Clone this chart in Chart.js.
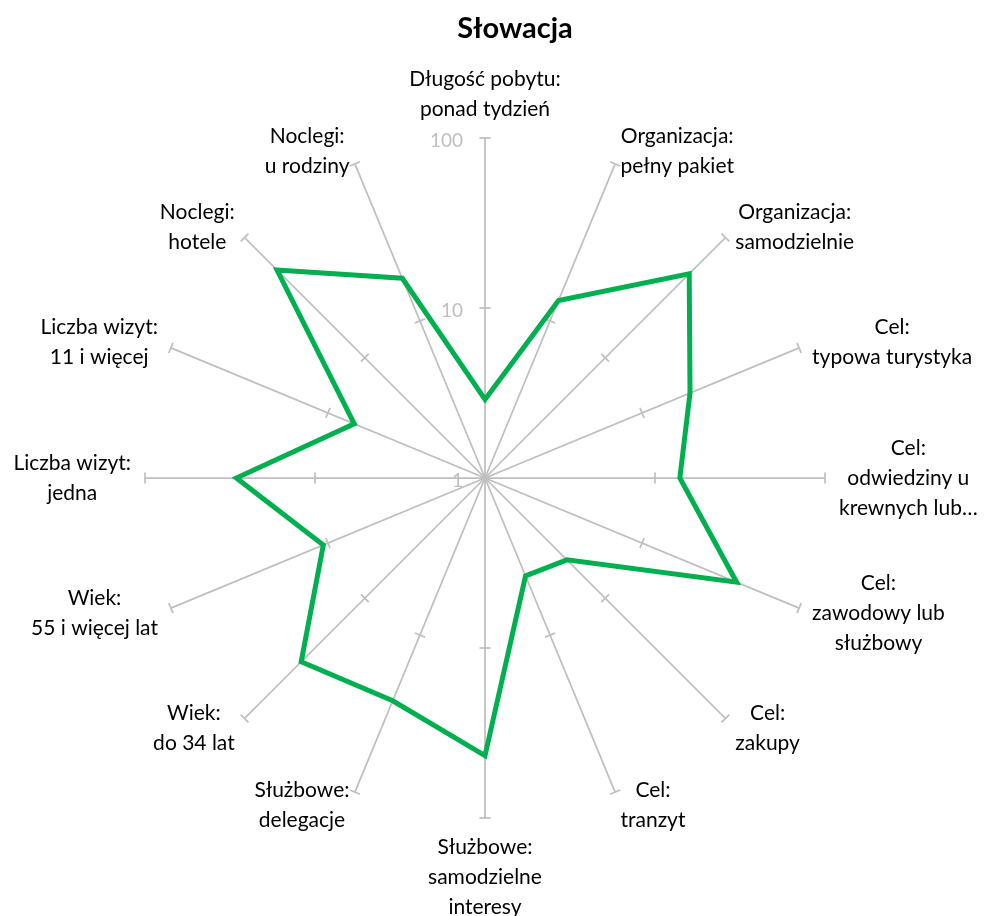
<!DOCTYPE html>
<html>
<head>
<meta charset="utf-8">
<script src="https://cdn.jsdelivr.net/npm/chart.js@4/dist/chart.umd.min.js"></script>
<style>
html,body{margin:0;padding:0;background:#fff;}
#wrap{width:987px;height:916px;}
</style>
</head>
<body>
<div id="wrap"><canvas id="c" width="987" height="916"></canvas></div>
<script>
const chartTitle = "Słowacja";
const categories = [
  ["Długość pobytu:", "ponad tydzień"],
  ["Organizacja:", "pełny pakiet"],
  ["Organizacja:", "samodzielnie"],
  ["Cel:", "typowa turystyka"],
  ["Cel:", "odwiedziny u", "krewnych lub…"],
  ["Cel:", "zawodowy lub", "służbowy"],
  ["Cel:", "zakupy"],
  ["Cel:", "tranzyt"],
  ["Służbowe:", "samodzielne", "interesy"],
  ["Służbowe:", "delegacje"],
  ["Wiek:", "do 34 lat"],
  ["Wiek:", "55 i więcej lat"],
  ["Liczba wizyt:", "jedna"],
  ["Liczba wizyt:", "11 i więcej"],
  ["Noclegi:", "hotele"],
  ["Noclegi:", "u rodziny"]
];
const values = [2.9, 13.5, 50, 20.2, 14, 40, 4.8, 4.2, 43, 26.2, 33.8, 10.7, 29, 6.8, 53.7, 18.7];
const tickValues = [1, 10, 100];
const tickLabels = ["1", "10", "100"];

const logValues = values.map(v => Math.log10(v));

const decor = {
  id: 'decor',
  beforeDatasetsDraw(chart) {
    const s = chart.scales.r;
    const ctx = chart.ctx;
    const n = chart.data.labels.length;
    ctx.save();
    // tick marks on spokes
    ctx.strokeStyle = '#bfbfbf';
    ctx.lineWidth = 1.75;
    for (let i = 0; i < n; i++) {
      const a = s.getIndexAngle(i) - Math.PI / 2;
      const px = -Math.sin(a), py = Math.cos(a);
      tickValues.slice(1).forEach(tv => {
        const d = s.getDistanceFromCenterForValue(Math.log10(tv));
        const p = s.getPointPosition(i, d);
        ctx.beginPath();
        ctx.moveTo(p.x - px * 5.5, p.y - py * 5.5);
        ctx.lineTo(p.x + px * 5.5, p.y + py * 5.5);
        ctx.stroke();
      });
    }
    // tick labels
    ctx.fillStyle = '#bfbfbf';
    ctx.font = '19px Lato';
    ctx.textAlign = 'right';
    ctx.textBaseline = 'middle';
    tickValues.forEach((tv, k) => {
      const d = s.getDistanceFromCenterForValue(Math.log10(tv));
      ctx.fillText(tickLabels[k], s.xCenter - 22, s.yCenter - d + 3);
    });
    // point labels (centered multi-line, Excel-like placement)
    ctx.fillStyle = '#000';
    ctx.font = '21px Lato';
    ctx.textAlign = 'center';
    const lh = 30, pad = 14;
    for (let i = 0; i < n; i++) {
      const th = s.getIndexAngle(i);
      const sn = Math.sin(th), cs = Math.cos(th);
      const end = s.getPointPosition(i, s.drawingArea);
      const ax = end.x + sn * pad, ay = end.y - cs * pad;
      const lines = chart.data.labels[i];
      const w = Math.max(...lines.map(t => ctx.measureText(t).width));
      const h = lines.length * lh;
      let cx, top;
      if (Math.abs(sn) < 0.01) {
        cx = ax;
        top = cs > 0 ? ay - h : ay;
      } else {
        cx = sn > 0 ? ax + w / 2 : ax - w / 2;
        top = ay - h / 2;
      }
      lines.forEach((t, k) => ctx.fillText(t, cx, top + lh / 2 + k * lh));
    }
    // title
    ctx.font = 'bold 29px Lato';
    ctx.fillText(chartTitle, 515, 29);
    ctx.restore();
  }
};

new Chart(document.getElementById('c'), {
  type: 'radar',
  data: {
    labels: categories,
    datasets: [{
      data: logValues,
      borderColor: '#00b050',
      borderWidth: 5,
      fill: false,
      pointRadius: 0,
      pointHoverRadius: 0,
      tension: 0
    }]
  },
  options: {
    responsive: false,
    animation: false,
    layout: { padding: { top: 138, bottom: 98, left: 145, right: 162 } },
    plugins: {
      legend: { display: false },
      tooltip: { enabled: false },
      title: { display: false }
    },
    scales: {
      r: {
        min: 0,
        max: 2,
        ticks: { display: false, stepSize: 1 },
        grid: { display: false },
        angleLines: { display: true, color: '#bfbfbf', lineWidth: 1.75 },
        pointLabels: { display: false }
      }
    }
  },
  plugins: [decor]
});
</script>
</body>
</html>
